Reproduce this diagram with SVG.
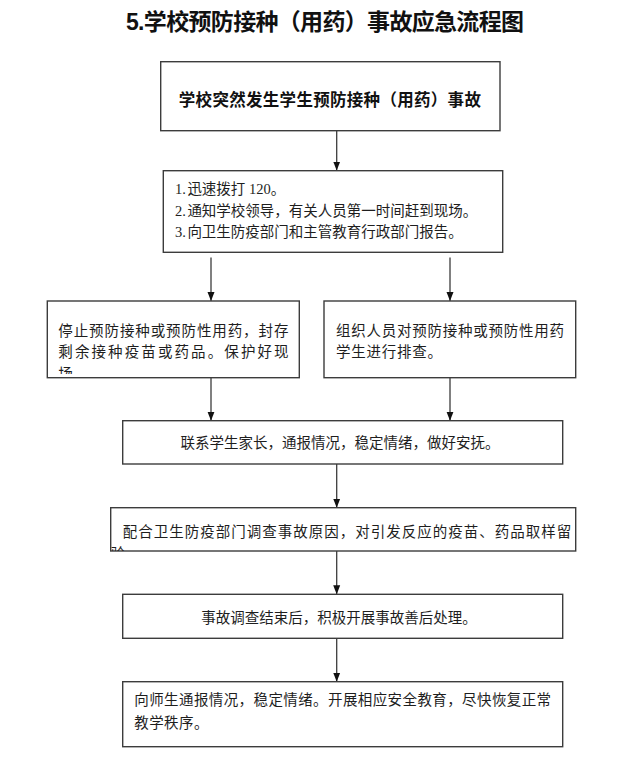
<svg xmlns="http://www.w3.org/2000/svg" width="623" height="772" viewBox="0 0 623 772">
<defs>
<style>
.box{fill:#fff;stroke:#3c3c3c;stroke-width:1.4}
.t{font-family:"Liberation Serif","Noto Sans CJK SC",serif;font-size:14.5px;fill:#1e1e1e}
.b{font-family:"Liberation Sans","Noto Sans CJK SC",sans-serif;font-weight:bold;fill:#111}
.ln{stroke:#3c3c3c;stroke-width:1.3;fill:none}
</style>
<marker id="arr" markerUnits="userSpaceOnUse" markerWidth="8" markerHeight="9" viewBox="0 0 8 9" refX="4" refY="9" orient="0">
<path d="M0.5,0 L7.5,0 L4,9 Z" fill="#111"/>
</marker>
<clipPath id="cL"><rect x="47" y="301" width="253" height="73"/></clipPath>
<clipPath id="c4"><rect x="100" y="507" width="476" height="44"/></clipPath>
</defs>
<rect width="623" height="772" fill="#fff"/>
<text class="b" x="126" y="30" font-size="23" textLength="398" lengthAdjust="spacing">5.学校预防接种（用药）事故应急流程图</text>
<g id="connectors">
<line class="ln" x1="336.7" y1="131" x2="336.7" y2="170.5" marker-end="url(#arr)"/>
<line class="ln" x1="211" y1="257.5" x2="211" y2="301" marker-end="url(#arr)"/>
<line class="ln" x1="450" y1="257.5" x2="450" y2="301" marker-end="url(#arr)"/>
<line class="ln" x1="211" y1="378" x2="211" y2="420.7" marker-end="url(#arr)"/>
<line class="ln" x1="450" y1="378" x2="450" y2="420.7" marker-end="url(#arr)"/>
<line class="ln" x1="336.7" y1="464" x2="336.7" y2="507.7" marker-end="url(#arr)"/>
<line class="ln" x1="336.7" y1="551" x2="336.7" y2="594.3" marker-end="url(#arr)"/>
<line class="ln" x1="336.7" y1="638.3" x2="336.7" y2="681.7" marker-end="url(#arr)"/>
</g>
<g id="n1">
<rect class="box" x="160.7" y="61.7" width="339.3" height="69"/>
<text class="b" x="330" y="106.3" font-size="16.5" letter-spacing="0.3" text-anchor="middle">学校突然发生学生预防接种（用药）事故</text>
</g>
<g id="n2">
<rect class="box" x="163.3" y="170.7" width="339.4" height="81.6"/>
<text class="t" x="175" y="193.8">1.<tspan dx="1.5">迅速拨打 120。</tspan></text>
<text class="t" x="175" y="215.5">2.<tspan dx="1.5">通知学校领导，有关人员第一时间赶到现场。</tspan></text>
<text class="t" x="175" y="237.2">3.<tspan dx="1.5">向卫生防疫部门和主管教育行政部门报告。</tspan></text>
</g>
<g id="n3">
<rect class="box" x="47.3" y="301" width="252" height="76.7"/>
<g clip-path="url(#cL)">
<text class="t" x="58.3" y="335.5" letter-spacing="0.9">停止预防接种或预防性用药，封存</text>
<text class="t" x="58.3" y="357.2" letter-spacing="2.1">剩余接种疫苗或药品。保护好现</text>
<text class="t" x="58.3" y="378.9">场</text>
</g>
</g>
<g id="n4">
<rect class="box" x="324" y="301" width="251.7" height="76.7"/>
<text class="t" x="336" y="335.5" letter-spacing="0.75">组织人员对预防接种或预防性用药</text>
<text class="t" x="336" y="357.2" letter-spacing="0.75">学生进行排查。</text>
</g>
<g id="n5">
<rect class="box" x="122.7" y="420.7" width="440" height="43.3"/>
<text class="t" x="340" y="448.2" font-size="14.4" text-anchor="middle">联系学生家长，通报情况，稳定情绪，做好安抚。</text>
</g>
<g id="n6">
<rect class="box" x="110.7" y="507.7" width="465" height="43.3"/>
<g clip-path="url(#c4)">
<text class="t" x="122.7" y="537.2" letter-spacing="1">配合卫生防疫部门调查事故原因，对引发反应的疫苗、药品取样留</text>
<text class="t" x="110.7" y="558.9">验</text>
</g>
</g>
<g id="n7">
<rect class="box" x="122.7" y="594.3" width="440" height="44"/>
<text class="t" x="339" y="622.8" font-size="14.2" text-anchor="middle">事故调查结束后，积极开展事故善后处理。</text>
</g>
<g id="n8">
<rect class="box" x="122.7" y="681.7" width="440" height="65"/>
<text class="t" x="134.3" y="704.8" letter-spacing="0.4">向师生通报情况，稳定情绪。开展相应安全教育，尽快恢复正常</text>
<text class="t" x="134.3" y="728.2" letter-spacing="0.4">教学秩序。</text>
</g>
</svg>
